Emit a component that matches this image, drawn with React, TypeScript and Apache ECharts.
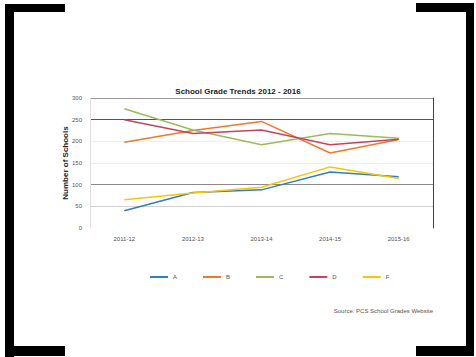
import React, { useEffect, useRef } from "react";
import * as echarts from "echarts";

const categories = ["2011-12", "2012-13", "2013-14", "2014-15", "2015-16"];
const seriesNames = ["A", "B", "C", "D", "F"];
const valuesA = [40, 82, 88, 129, 118];
const valuesB = [198, 225, 246, 173, 204];
const valuesC = [275, 226, 192, 218, 207];
const valuesD = [250, 218, 226, 192, 205];
const valuesF = [65, 81, 94, 141, 114];
const colors = ["#2f7ec1", "#ea7a2c", "#9bbb59", "#c4455a", "#f7c600"];
const splitColors = ["transparent", "#d0d0d0", "#8a8a8a", "#eeeeee", "#eeeeee", "#555555", "#9a9a9a"];

export default function App() {
  const ref = useRef<HTMLDivElement>(null);
  useEffect(() => {
    if (!ref.current) return;
    const chart = echarts.init(ref.current, null, { renderer: "svg" });
    const data = [valuesA, valuesB, valuesC, valuesD, valuesF];
    const bar = { type: "rect", style: { fill: "#000" } };
    chart.setOption({
      animation: false,
      backgroundColor: "#ffffff",
      title: {
        text: "School Grade Trends 2012 - 2016",
        left: "center",
        top: 82,
        textStyle: { fontSize: 8, fontWeight: "bold", color: "#222", fontFamily: "Liberation Sans" },
      },
      grid: { left: 90, right: 43, top: 98, bottom: 129 },
      xAxis: {
        type: "category",
        data: categories,
        boundaryGap: true,
        axisLine: { show: false },
        axisTick: { show: false },
        axisLabel: { fontSize: 6, color: "#555", margin: 8, fontFamily: "Liberation Sans" },
      },
      yAxis: [
        {
          type: "value",
          min: 0,
          max: 300,
          interval: 50,
          name: "Number of Schools",
          nameLocation: "middle",
          nameGap: 21,
          nameMoveOverlap: false,
          nameTextStyle: { fontSize: 8, fontWeight: "bold", color: "#222", fontFamily: "Liberation Sans" },
          axisLine: { show: true, lineStyle: { color: "#e0e0e0", width: 1 } },
          axisTick: { show: false },
          axisLabel: { fontSize: 6, color: "#555", margin: 8, fontFamily: "Liberation Sans" },
          splitLine: { show: true, lineStyle: { color: splitColors, width: 1 } },
        },
        {
          type: "value",
          min: 0,
          max: 300,
          interval: 50,
          position: "right",
          axisLine: { show: true, lineStyle: { color: "#444", width: 1 } },
          axisTick: { show: false },
          axisLabel: { show: false },
          splitLine: { show: false },
        },
      ],
      legend: {
        left: 145,
        top: 269,
        itemWidth: 18,
        itemHeight: 2,
        itemGap: 26,
        icon: "rect",
        textStyle: { fontSize: 6, color: "#555", fontFamily: "Liberation Sans" },
        data: seriesNames,
      },
      series: seriesNames.map((name, i) => ({
        name,
        type: "line",
        data: data[i],
        showSymbol: false,
        symbol: "none",
        color: colors[i],
        lineStyle: { width: 1.5, color: colors[i] },
      })),
      graphic: [
        { ...bar, shape: { x: 5, y: 4, width: 60, height: 8 } },
        { ...bar, shape: { x: 5, y: 4, width: 9, height: 353 } },
        { ...bar, shape: { x: 5, y: 346, width: 60, height: 10 } },
        { ...bar, shape: { x: 416, y: 3, width: 58, height: 9 } },
        { ...bar, shape: { x: 466, y: 3, width: 8, height: 353 } },
        { ...bar, shape: { x: 416, y: 346, width: 58, height: 10 } },
        {
          type: "text",
          right: 43,
          top: 308,
          style: { text: "Source: PCS School Grades Website", fontSize: 6, fill: "#555", fontFamily: "Liberation Sans" },
        },
      ],
    });
    return () => chart.dispose();
  }, []);
  return <div ref={ref} style={{ position: "fixed", left: 0, top: 0, width: 476, height: 357 }} />;
}
